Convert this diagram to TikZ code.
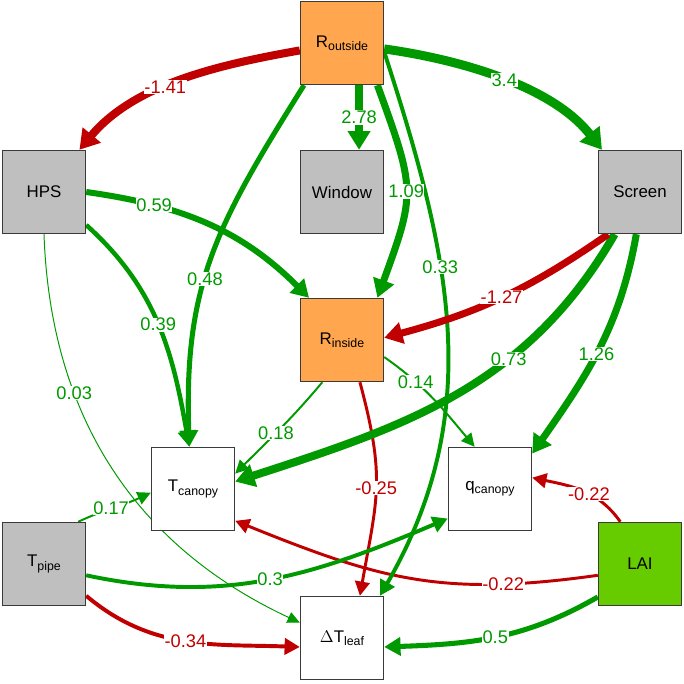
\documentclass[tikz,border=0pt]{standalone}
\usepackage{fontspec}
\setmainfont{Liberation Sans}
\usetikzlibrary{arrows.meta,backgrounds}

\definecolor{posgreen}{HTML}{009900}
\definecolor{negred}{HTML}{C00000}
\definecolor{sunorange}{HTML}{FFA64F}
\definecolor{ctrlgray}{HTML}{BFBFBF}
\definecolor{laigreen}{HTML}{66CC00}
\definecolor{boxline}{HTML}{3A3A3A}

\newcommand{\lowtxt}[1]{\raisebox{-2.4pt}{\fontsize{8.8}{9}\selectfont #1}}

\begin{document}
\begin{tikzpicture}[x=0.025cm, y=0.025cm,
  box/.style={draw=boxline, line width=1pt, minimum size=2.075cm, inner sep=0pt, font=\fontsize{12}{14}\selectfont},
  posedge/.style={color=posgreen, line width=#1, -{Triangle[length=8pt 1, width=7pt 1.6]}},
  negedge/.style={color=negred, line width=#1, -{Triangle[length=8pt 1, width=7pt 1.6]}},
  wlabel/.style={fill=white, inner sep=0.4pt, font=\fontsize{13}{13}\selectfont}]
\useasboundingbox (0,0) rectangle (684,684);

\node[box, fill=sunorange] (rout) at (342,641) {R\lowtxt{outside}};
\node[box, fill=ctrlgray] (hps) at (44,492) {HPS};
\node[box, fill=ctrlgray] (win) at (342,492) {Window};
\node[box, fill=ctrlgray] (scr) at (640,492) {Screen};
\node[box, fill=sunorange] (rin) at (342,344) {R\lowtxt{inside}};
\node[box, fill=white] (tcan) at (193,195) {T\lowtxt{canopy}};
\node[box, fill=white] (qcan) at (490,195) {q\lowtxt{canopy}};
\node[box, fill=ctrlgray] (tpipe) at (44,120) {T\lowtxt{pipe}};
\node[box, fill=laigreen] (lai) at (640,120) {LAI};
\node[box, fill=white] (dtl) at (342,46) {$\Delta$T\lowtxt{leaf}};

\begin{scope}[on background layer]
\draw[posedge=0.7pt] (hps.south) to[out=-88,in=155] node[wlabel,pos=.32] {0.03} (dtl.160);
\draw[posedge=1.4pt] (rin.-115) to[out=-130,in=45] node[wlabel,pos=.55] {0.18} (tcan.20);
\draw[posedge=1.4pt] (rin.-22) to[out=-35,in=130] node[wlabel,pos=.3] {0.14} (qcan.110);
\draw[posedge=1.4pt] (tpipe.51) to[out=25,in=205] node[wlabel,pos=.45] {0.17} (tcan.185);
\draw[negedge=2.1pt] (rin.-67) to[out=-75,in=80,looseness=1.2] node[wlabel,pos=.5] {-0.25} (dtl.67);
\draw[negedge=2.1pt] (lai.115) to[out=125,in=-12] node[wlabel,pos=.42] {-0.22} (qcan.15);
\draw[negedge=2.1pt] (lai.195) to[out=188,in=-22,looseness=1.1] node[wlabel,pos=.23] {-0.22} (tcan.-37);
\draw[posedge=2.8pt] (tpipe.-15) to[out=-12,in=203] node[wlabel,pos=.5] {0.3} (qcan.215);
\draw[negedge=2.8pt] (tpipe.-37) to[out=-40,in=178] node[wlabel,pos=.5] {-0.34} (dtl.-168);
\draw[posedge=2.8pt] (rout.-12) to[out=-72,in=60] node[wlabel,pos=.38] {0.33} (dtl.48);
\draw[posedge=3.2pt] (hps.-38) to[out=-42,in=100] node[wlabel,pos=.5] {0.39} (tcan.95);
\draw[posedge=3.6pt] (rout.-132) to[out=-122,in=92,looseness=1.1] node[wlabel,pos=.57] {0.48} (tcan.95);
\draw[posedge=3.6pt] (lai.218) to[out=-150,in=2] node[wlabel,pos=.5] {0.5} (dtl.-12);
\draw[posedge=4.3pt] (hps.east) to[out=-8,in=135] node[wlabel,pos=.26] {0.59} (rin.128);
\draw[posedge=5.7pt] (scr.-121) to[out=-120,in=18] node[wlabel,pos=.35] {0.73} (tcan.10);
\draw[posedge=5pt] (scr.-95) to[out=-100,in=55] node[wlabel,pos=.52] {1.26} (qcan.40);
\draw[negedge=5pt] (scr.-127) to[out=-145,in=15] node[wlabel,pos=.5] {-1.27} (rin.3);
\draw[posedge=5pt] (rout.-50) to[out=-70,in=70,looseness=1.35] node[wlabel,pos=.5] {1.09} (rin.50);
\draw[posedge=5.3pt] (rout.-68) -- node[wlabel] {2.78} (win.68);
\draw[negedge=5.7pt] (rout.190) to[out=190,in=50,looseness=.9] node[wlabel,pos=.56] {-1.41} (hps.50);
\draw[posedge=6.4pt] (rout.-8) to[out=-8,in=128,looseness=.85] node[wlabel,pos=.5] {3.4} (scr.132);
\end{scope}
\end{tikzpicture}
\end{document}
